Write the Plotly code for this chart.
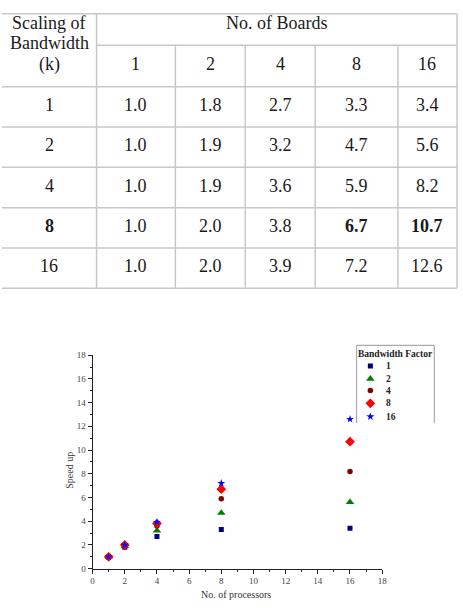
import plotly.graph_objects as go

# ---------------- data ----------------
boards = [1, 2, 4, 8, 16]                 # No. of boards / processors
bandwidth_k = [1, 2, 4, 8, 16]            # scaling of bandwidth
speed_k1 = [1.0, 1.8, 2.7, 3.3, 3.4]
speed_k2 = [1.0, 1.9, 3.2, 4.7, 5.6]
speed_k4 = [1.0, 1.9, 3.6, 5.9, 8.2]
speed_k8 = [1.0, 2.0, 3.8, 6.7, 10.7]
speed_k16 = [1.0, 2.0, 3.9, 7.2, 12.6]
series = [speed_k1, speed_k2, speed_k4, speed_k8, speed_k16]
bold_cells = {(3, 3), (3, 4)}             # (row, col) shown in bold
header_lines = ["Scaling of", "Bandwidth", "(k)"]
x_ticks = list(range(0, 19, 2))
y_ticks = list(range(0, 19, 2))

# ---------------- styles ----------------
W, H = 463, 611
SERIF = "Liberation Serif, Times New Roman, serif"
colors = ["#000080", "#008000", "#800000", "#ff0000", "#0000ff"]
symbols = ["square", "triangle-up", "circle", "diamond", "star"]
sizes = [5, 7.5, 5.5, 7.5, 6]

col_edges = [0, 96, 176, 247, 318, 402, 462]
row_edges = [9, 41, 83, 124, 165, 206, 247, 288]
grid_col = "#c8c8c8"
TY = -2  # vertical text nudge

# chart area in pixels
cx0, cx1 = 92, 386
cy_top, cy_bot = 356, 573

fig = go.Figure()

# ---------------- scatter chart ----------------
for k, ys, c, s, sz in zip(bandwidth_k, series, colors, symbols, sizes):
    fig.add_trace(go.Scatter(
        x=boards, y=ys, mode="markers", name=str(k), showlegend=False,
        marker=dict(color=c, symbol=s, size=sz, line=dict(width=0)),
        xaxis="x", yaxis="y"))

# ---------------- overlay axes (pixel space) for table & legend ----------------
shapes = []
annotations = []

def hline(y, x0, x1):
    shapes.append(dict(type="line", xref="x2", yref="y2", x0=x0, x1=x1, y0=y, y1=y,
                       line=dict(color=grid_col, width=1.5), layer="above"))

def vline(x, y0, y1):
    shapes.append(dict(type="line", xref="x2", yref="y2", x0=x, x1=x, y0=y0, y1=y1,
                       line=dict(color=grid_col, width=1.5), layer="above"))

hline(row_edges[0], col_edges[0], col_edges[-1])
hline(row_edges[1], col_edges[1], col_edges[-1])
for y in row_edges[2:]:
    hline(y, col_edges[0], col_edges[-1])
vline(col_edges[1], row_edges[0], row_edges[-1])
vline(col_edges[-1], row_edges[0], row_edges[-1])
for x in col_edges[2:-1]:
    vline(x, row_edges[1], row_edges[-1])

def txt(x, y, t, size=18, color="#1a1a1a", fam=SERIF, xanchor="center", ref="2"):
    annotations.append(dict(x=x, y=y, xref="x" + ref, yref="y" + ref, text=t,
                            showarrow=False, xanchor=xanchor, yanchor="middle",
                            font=dict(family=fam, size=size, color=color)))

for i, line in enumerate(header_lines):
    txt((col_edges[0] + col_edges[1]) / 2, 20 + 21 * i + TY, line)
txt((col_edges[1] + col_edges[-1]) / 2, 20 + TY, "No. of Boards")
for j, b in enumerate(boards):
    txt((col_edges[j + 1] + col_edges[j + 2]) / 2, 62 + TY, str(b))
for i, (k, ys) in enumerate(zip(bandwidth_k, series)):
    yc = (row_edges[i + 2] + row_edges[i + 3]) / 2 + TY
    lab = str(k)
    if k == 8:
        lab = "<b>" + lab + "</b>"
    txt((col_edges[0] + col_edges[1]) / 2, yc, lab)
    for j, v in enumerate(ys):
        t = f"{v:.1f}"
        if (i, j) in bold_cells:
            t = "<b>" + t + "</b>"
        txt((col_edges[j + 1] + col_edges[j + 2]) / 2, yc, t)

# axis titles
txt(238, 599, "No. of processors", size=10, color="#333")
annotations.append(dict(x=69, y=(cy_top + cy_bot) / 2 + 8, xref="x2", yref="y2",
                        text="Speed up", showarrow=False, textangle=-90,
                        font=dict(family=SERIF, size=10, color="#333")))

# custom legend
lg_x0, lg_x1, lg_top, lg_bot = 360, 439, 346, 425
for (xa, ya, xb, yb) in [(lg_x0, lg_top, lg_x1, lg_top), (lg_x0, lg_top, lg_x0, lg_bot),
                         (lg_x1, lg_top, lg_x1, lg_bot)]:
    shapes.append(dict(type="line", xref="x2", yref="y2", x0=xa, x1=xb, y0=ya, y1=yb,
                       line=dict(color="#aaaaaa", width=1.2)))
txt(400, 355, "<b>Bandwidth Factor</b>", size=9.5, color="#222")
leg_y = [367, 380, 392, 405, 418.5]
for k, ly, c, s, sz in zip(bandwidth_k, leg_y, colors, symbols, sizes):
    fig.add_trace(go.Scatter(x=[374], y=[ly], mode="markers", showlegend=False,
                             marker=dict(color=c, symbol=s, size=sz, line=dict(width=0)),
                             xaxis="x2", yaxis="y2", hoverinfo="skip"))
    txt(388, ly, "<b>" + str(k) + "</b>", size=9.5, color="#222", xanchor="left")

tick_font = dict(family=SERIF, size=9, color="#444")
fig.update_layout(
    width=W, height=H, margin=dict(l=0, r=0, t=0, b=0),
    paper_bgcolor="white", plot_bgcolor="rgba(0,0,0,0)", showlegend=False,
    xaxis=dict(domain=[cx0 / W, cx1 / W], range=[0, 18], tickvals=x_ticks,
               showgrid=False, zeroline=False, showline=True, linecolor="#222",
               linewidth=1, ticks="outside", ticklen=4, tickcolor="#222",
               tickfont=tick_font,
               minor=dict(dtick=1, tick0=0, ticks="outside", ticklen=2, tickcolor="#222"),
               anchor="y"),
    yaxis=dict(domain=[1 - cy_bot / H, 1 - cy_top / H], range=[0, 18], tickvals=y_ticks,
               showgrid=False, zeroline=False, showline=True, linecolor="#222",
               linewidth=1, ticks="outside", ticklen=4, tickcolor="#222",
               tickfont=tick_font,
               minor=dict(dtick=1, tick0=0, ticks="outside", ticklen=2, tickcolor="#222"),
               anchor="x"),
    xaxis2=dict(domain=[0, 1], range=[0, W], visible=False, fixedrange=True, anchor="y2"),
    yaxis2=dict(domain=[0, 1], range=[H, 0], visible=False, fixedrange=True, anchor="x2"),
    shapes=shapes, annotations=annotations,
)

fig.write_html("out.html")
